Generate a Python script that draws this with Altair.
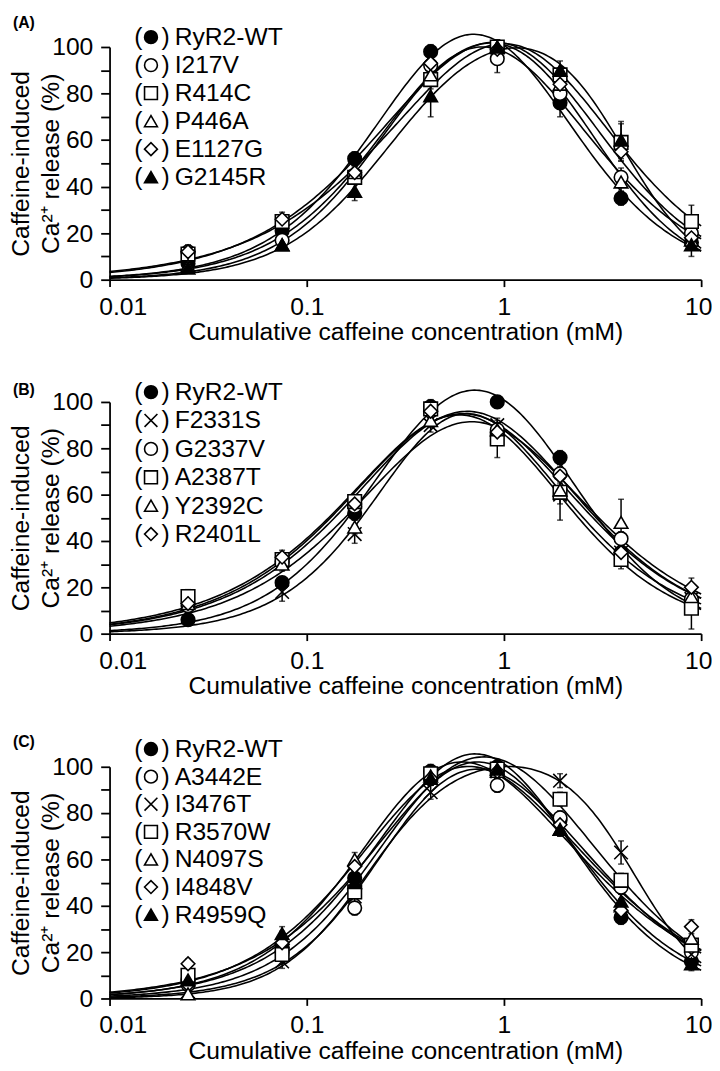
import numpy as np
import pandas as pd
import altair as alt

FONT = "Liberation Sans"

# cumulative caffeine concentrations (mM)
conc = [0.025, 0.075, 0.175, 0.425, 0.925, 1.925, 3.925, 8.925]

# marker definitions
marker_keys = ["circle_f", "circle_o", "square_o", "triangle_o", "diamond_o", "triangle_f", "cross"]
marker_shapes = ["circle", "circle", "square", "triangle-up", "diamond", "triangle-up",
                 "M-1,-1L1,1M1,-1L-1,1"]
marker_fills = ["black", "white", "white", "white", "white", "black", "white"]

# ---------------- Panel A ----------------
a_names = ["RyR2-WT", "I217V", "R414C", "P446A", "E1127G", "G2145R"]
a_markers = ["circle_f", "circle_o", "square_o", "triangle_o", "diamond_o", "triangle_f"]
a_values = [
    [7, 21, 52, 98, 100, 76, 35, 16],
    [12, 17, 45, 92, 95, 80, 44, 20],
    [11, 25, 44, 86, 100, 88, 59, 25],
    [6, 15, 46, 88, 100, 84, 42, 17],
    [12, 26, 46, 93, 99, 84, 55, 18],
    [5, 15, 38, 79, 100, 90, 60, 15],
]
a_errors = [
    [2, 3, 3, 3, 2, 6, 3, 3],
    [2, 3, 3, 3, 6, 3, 4, 4],
    [3, 3, 3, 4, 3, 3, 8, 7],
    [2, 2, 3, 4, 3, 4, 4, 4],
    [3, 3, 3, 3, 3, 3, 4, 4],
    [2, 2, 4, 9, 3, 4, 8, 5],
]

# ---------------- Panel B ----------------
b_names = ["RyR2-WT", "F2331S", "G2337V", "A2387T", "Y2392C", "R2401L"]
b_markers = ["circle_f", "cross", "circle_o", "square_o", "triangle_o", "diamond_o"]
b_values = [
    [6, 22, 52, 98, 100, 76, 35, 14],
    [9, 18, 43, 90, 90, 60, 35, 15],
    [12, 31, 55, 96, 88, 69, 41, 15],
    [16, 32, 57, 97, 84, 61, 32, 11],
    [13, 30, 46, 92, 88, 62, 48, 16],
    [13, 33, 56, 96, 87, 68, 35, 20],
]
b_errors = [
    [2, 2, 3, 3, 2, 3, 3, 3],
    [2, 4, 4, 3, 3, 4, 4, 4],
    [2, 3, 3, 3, 3, 3, 3, 3],
    [3, 3, 3, 3, 8, 12, 4, 9],
    [2, 3, 3, 3, 3, 4, 10, 5],
    [2, 3, 3, 3, 3, 3, 3, 4],
]

# ---------------- Panel C ----------------
c_names = ["RyR2-WT", "A3442E", "I3476T", "R3570W", "N4097S", "I4848V", "R4959Q"]
c_markers = ["circle_f", "circle_o", "cross", "square_o", "triangle_o", "diamond_o", "triangle_f"]
c_values = [
    [8, 22, 52, 98, 100, 77, 35, 16],
    [6, 20, 39, 95, 92, 78, 48, 20],
    [3, 16, 44, 89, 98, 94, 63, 19],
    [10, 19, 46, 97, 99, 86, 51, 23],
    [2, 26, 60, 96, 98, 73, 40, 26],
    [15, 24, 57, 95, 98, 75, 38, 31],
    [8, 28, 50, 95, 99, 73, 42, 15],
]
c_errors = [
    [2, 2, 3, 3, 2, 3, 3, 3],
    [2, 3, 3, 3, 3, 3, 3, 3],
    [2, 3, 3, 3, 3, 3, 5, 3],
    [2, 3, 3, 3, 3, 3, 3, 3],
    [2, 3, 3, 3, 3, 3, 3, 3],
    [2, 3, 3, 3, 3, 3, 3, 3],
    [2, 3, 3, 3, 3, 3, 3, 3],
]


# bell-shaped (activation x inactivation Hill) fit of each data series
def model(p, u):
    A, k1, n1, k2, n2 = p
    return A / (1 + 10 ** (n1 * (k1 - u))) / (1 + 10 ** (n2 * (u - k2)))


def fit(x, y):
    u = np.log10(np.asarray(x, float))
    y = np.asarray(y, float)
    p = np.array([110.0, -0.75, 1.2, 0.35, 1.5])

    def resid(q):
        return model(q, u) - y

    r = resid(p)
    cost = r @ r
    lam = 1e-2
    for _ in range(800):
        J = np.empty((len(u), 5))
        for j in range(5):
            dp = np.zeros(5)
            h = 1e-6 * max(1.0, abs(p[j]))
            dp[j] = h
            J[:, j] = (resid(p + dp) - r) / h
        H = J.T @ J
        g = J.T @ r
        try:
            step = np.linalg.solve(H + lam * np.diag(np.diag(H) + 1e-9), -g)
        except np.linalg.LinAlgError:
            lam *= 10
            continue
        pn = p + step
        pn[0] = np.clip(pn[0], 60, 250)
        pn[1] = np.clip(pn[1], -2.5, 1.0)
        pn[2] = np.clip(pn[2], 0.3, 6)
        pn[3] = np.clip(pn[3], -1.5, 1.5)
        pn[4] = np.clip(pn[4], 0.3, 6)
        rn = resid(pn)
        cn = rn @ rn
        if cn < cost:
            p, r, cost = pn, rn, cn
            lam = max(lam * 0.3, 1e-9)
        else:
            lam *= 10
            if lam > 1e12:
                break
    return p


grid_u = np.linspace(-2, 1, 241)

x_title = "Cumulative caffeine concentration (mM)"
y_title = ["Caffeine-induced", "Ca\u00b2\u207a release (%)"]


def make_panel(tag, names, markers, values, errors, height, top_off, leg_y0, leg_dy, tag_y):
    pts, caps, curves = [], [], []
    for name, mk, vals, ers in zip(names, markers, values, errors):
        for c, v, e in zip(conc, vals, ers):
            pts.append(dict(series=name, marker=mk, conc=c, value=v, lo=v - e, hi=v + e))
            caps.append(dict(series=name, conc=c, end=v - e))
            caps.append(dict(series=name, conc=c, end=v + e))
        p = fit(conc, vals)
        for u in grid_u:
            curves.append(dict(series=name, conc=float(10 ** u), fit=float(model(p, u))))
    df_pts = pd.DataFrame(pts)
    df_caps = pd.DataFrame(caps)
    df_cur = pd.DataFrame(curves)
    df_leg = pd.DataFrame(dict(row=list(range(len(names))), label=names, marker=markers))

    xs = alt.Scale(type="log", domain=[0.01, 10], nice=False)
    xa = alt.Axis(values=[0.01, 0.1, 1, 10], format="~g", title=x_title, tickSize=7,
                  labelPadding=8, labelFlush=True, labelFlushOffset=11, titleY=41,
                  titleBaseline="top")
    ys = alt.Scale(domain=[0, 100], range=[height, top_off], nice=False, zero=False)
    ya = alt.Axis(values=list(range(0, 101, 10)),
                  labelExpr="datum.value % 20 === 0 ? datum.label : ''",
                  title=y_title, tickSize=9, labelPadding=8, titleX=-77,
                  titleY=top_off + (height - top_off) / 2, titleBaseline="bottom",
                  titleAlign="center", titleLineHeight=30)

    shape_enc = alt.Shape("marker:N", scale=alt.Scale(domain=marker_keys, range=marker_shapes), legend=None)
    fill_enc = alt.Fill("marker:N", scale=alt.Scale(domain=marker_keys, range=marker_fills), legend=None)

    X = alt.X("conc:Q", scale=xs, axis=xa)

    lines = alt.Chart(df_cur).mark_line(color="black", strokeWidth=1.6).encode(
        x=X, y=alt.Y("fit:Q", scale=ys, axis=ya), detail="series:N")
    rules = alt.Chart(df_pts).mark_rule(color="black", strokeWidth=1.5).encode(
        x=X, y=alt.Y("lo:Q", scale=ys, axis=ya), y2="hi:Q")
    capm = alt.Chart(df_caps).mark_tick(color="black", orient="horizontal", size=6, thickness=1.5).encode(
        x=X, y=alt.Y("end:Q", scale=ys, axis=ya))
    points = alt.Chart(df_pts).mark_point(filled=True, stroke="black", strokeWidth=1.6, size=190, opacity=1).encode(
        x=X, y=alt.Y("value:Q", scale=ys, axis=ya), shape=shape_enc, fill=fill_enc)

    data_layer = alt.layer(lines, rules, capm, points)

    ls = alt.Scale(domain=[0, 1], range=[leg_y0, leg_y0 + leg_dy], nice=False, zero=False)
    LY = alt.Y("row:Q", scale=ls, axis=None)
    p_open = alt.Chart(df_leg).mark_text(text="(", align="left", baseline="middle", fontSize=25,
                                         font=FONT, color="black").encode(x=alt.value(25), y=LY)
    p_close = alt.Chart(df_leg).mark_text(text=")", align="right", baseline="middle", fontSize=25,
                                          font=FONT, color="black").encode(x=alt.value(61), y=LY)
    l_pts = alt.Chart(df_leg).mark_point(filled=True, stroke="black", strokeWidth=1.6, size=170, opacity=1).encode(
        x=alt.value(42), y=LY, shape=shape_enc, fill=fill_enc)
    l_txt = alt.Chart(df_leg).mark_text(align="left", baseline="middle", fontSize=25, font=FONT,
                                        color="black").encode(x=alt.value(66), y=LY, text="label:N")
    tag_df = pd.DataFrame(dict(t=[tag]))
    tag_txt = alt.Chart(tag_df).mark_text(align="left", baseline="top", fontSize=16, fontWeight="bold",
                                          font=FONT, color="black").encode(
        x=alt.value(-98), y=alt.value(tag_y), text="t:N")

    legend_layer = alt.layer(p_open, p_close, l_pts, l_txt, tag_txt)

    return alt.layer(data_layer, legend_layer).resolve_scale(y="independent").properties(
        width=600, height=height)


pA = make_panel("(A)", a_names, a_markers, a_values, a_errors, 236, 0, -10, 28.4, -32)
pB = make_panel("(B)", b_names, b_markers, b_values, b_errors, 235, 0, -10, 28.8, -20)
pC = make_panel("(C)", c_names, c_markers, c_values, c_errors, 246, 11, -7, 28.0, -22)

chart = alt.vconcat(pA, pB, pC, spacing=124, bounds="flush").properties(padding=0).configure_axis(
    labelFont=FONT, titleFont=FONT, labelFontSize=25, titleFontSize=25,
    labelColor="black", titleColor="black", domainColor="black", tickColor="black",
    domainWidth=1.8, tickWidth=1.8, grid=False, titleFontWeight="normal"
).configure_view(stroke=None)

chart.save("out.html", embed_options={"renderer": "svg", "actions": False})
